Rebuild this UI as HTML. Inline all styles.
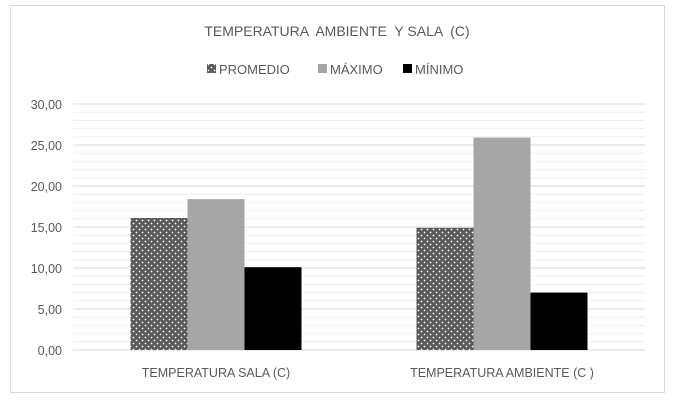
<!DOCTYPE html>
<html><head><meta charset="utf-8"><style>
body{margin:0;background:#fff;font-family:"Liberation Sans",sans-serif;}
</style></head><body>
<svg id="c" width="675" height="402" xmlns="http://www.w3.org/2000/svg">
<defs>
<pattern id="dots" width="6" height="6" patternUnits="userSpaceOnUse">
<rect width="6" height="6" fill="#595959"/>
<circle cx="1.5" cy="1.5" r="0.9" fill="#fff"/>
<circle cx="4.5" cy="4.5" r="0.9" fill="#fff"/>
</pattern>
</defs>
<rect x="10.5" y="5.5" width="654" height="387" fill="#fff" stroke="#d9d9d9"/>
<text x="337" y="36" text-anchor="middle" font-size="14" fill="#595959" style="white-space:pre">TEMPERATURA  AMBIENTE  Y SALA  (C)</text>
<g id="legend" font-size="13" fill="#595959"></g>
<g id="grid"></g><g id="bars"></g><g id="labels" font-size="12.5" fill="#595959"></g>
</svg>
<script>
const categories=["TEMPERATURA SALA (C)","TEMPERATURA AMBIENTE (C )"];
const seriesNames=["PROMEDIO","MÁXIMO","MÍNIMO"];
const promedio=[16.1,14.9];
const maximo=[18.4,25.9];
const minimo=[10.1,7.0];
const yTicks=["0,00","5,00","10,00","15,00","20,00","25,00","30,00"];
const fills=["url(#dots)","#a6a6a6","#000"];
const NS="http://www.w3.org/2000/svg";
const x0=73,x1=645,y0=350,yTop=104,yMax=30;
const y=v=>y0-(v/yMax)*(y0-yTop);
function mk(t,a,p){const e=document.createElementNS(NS,t);for(const k in a)e.setAttribute(k,a[k]);p.appendChild(e);return e;}
const grid=document.getElementById('grid'),bars=document.getElementById('bars'),labels=document.getElementById('labels'),legend=document.getElementById('legend');
for(let v=0;v<=yMax;v++){const l=mk('line',{x1:x0,x2:x1,y1:y(v),y2:y(v),stroke:v%5===0?'#d9d9d9':'#eeeeee','stroke-width':1},grid);

}
yTicks.forEach((t,i)=>{const e=mk('text',{x:62,y:y(i*5)+5,'text-anchor':'end'},labels);e.textContent=t;

});
const series=[promedio,maximo,minimo];
const cw=(x1-x0)/categories.length,bw=57;
categories.forEach((c,i)=>{const cx=x0+cw*(i+0.5);
series.forEach((s,j)=>{const bx=cx-1.5*bw+j*bw;const r=mk('rect',{x:bx,y:y(s[i]),width:bw,height:y0-y(s[i]),fill:fills[j]},bars);

});
const t=mk('text',{x:cx,y:377,'text-anchor':'middle'},labels);t.textContent=c;

});
const lx=[207,318,403];
seriesNames.forEach((n,j)=>{const r=mk('rect',{x:lx[j],y:64,width:9,height:9,fill:fills[j]},legend);


const t=mk('text',{x:lx[j]+12,y:74},legend);t.textContent=n;

});
</script>
</body></html>
